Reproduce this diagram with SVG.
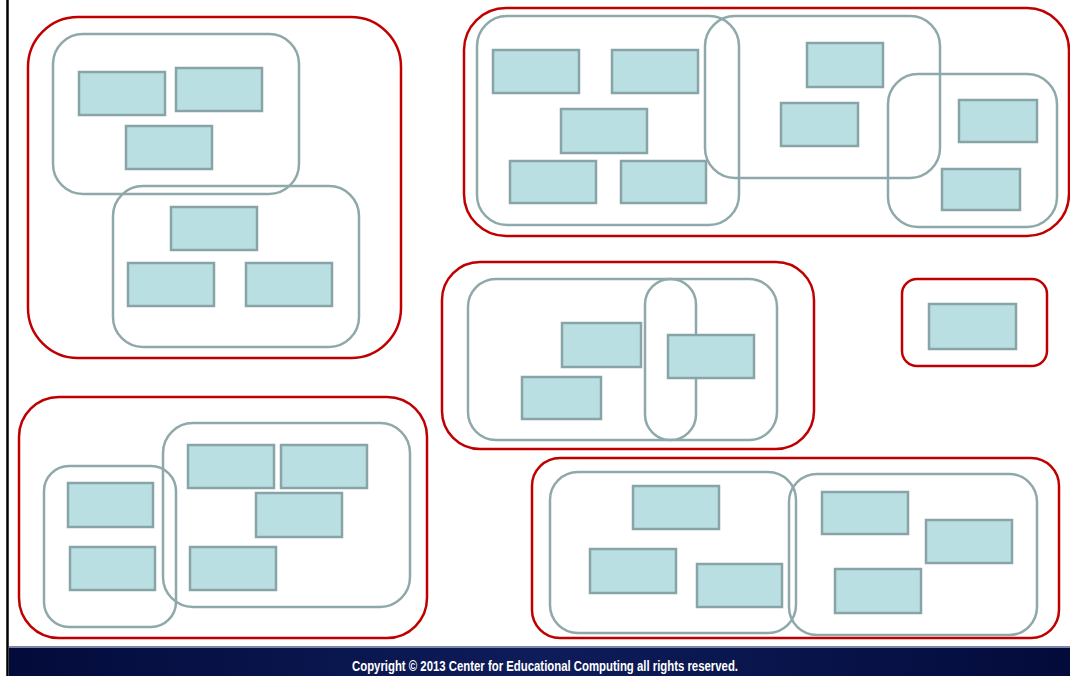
<svg xmlns="http://www.w3.org/2000/svg" width="1070" height="676" viewBox="0 0 1070 676">
<defs>
<style>
.red{fill:none;stroke:#C00000;stroke-width:2.5}
.grp{fill:none;stroke:#8FA9AB;stroke-width:2.5}
.box{fill:#BADFE3;stroke:#88A4A6;stroke-width:2.5}
.foot{font-family:"Liberation Sans",Arial,sans-serif;font-weight:bold;font-size:14.5px;fill:#ffffff}
</style>
<linearGradient id="fg" x1="0" y1="0" x2="1" y2="0">
<stop offset="0" stop-color="#030B3A"/>
<stop offset="0.5" stop-color="#0E1C5A"/>
<stop offset="1" stop-color="#030B3A"/>
</linearGradient>
</defs>
<rect x="0" y="0" width="1070" height="676" fill="#ffffff"/>
<line x1="7.5" y1="0" x2="7.5" y2="676" stroke="#000000" stroke-width="2.5"/>
<g id="footer">
<rect x="9" y="646" width="1061" height="30" fill="url(#fg)"/>
<rect x="9" y="646" width="1061" height="2" fill="#7C86A8"/>
<text class="foot" x="545" y="671" text-anchor="middle" textLength="386" lengthAdjust="spacingAndGlyphs">Copyright © 2013 Center for Educational Computing all rights reserved.</text>
</g>
<g id="groupA">
<rect class="red" x="28" y="17" width="373" height="341" rx="50"/>
<rect class="grp" x="53" y="34" width="246" height="160" rx="30"/>
<rect class="grp" x="113" y="186" width="246" height="161" rx="30"/>
<rect class="box" x="79" y="72" width="86" height="43"/>
<rect class="box" x="176" y="68" width="86" height="43"/>
<rect class="box" x="126" y="126" width="86" height="43"/>
<rect class="box" x="171" y="207" width="86" height="43"/>
<rect class="box" x="128" y="263" width="86" height="43"/>
<rect class="box" x="246" y="263" width="86" height="43"/>
</g>
<g id="groupB">
<rect class="red" x="464" y="8" width="605" height="228" rx="42"/>
<rect class="grp" x="477" y="16" width="262" height="209" rx="30"/>
<rect class="grp" x="705" y="16" width="235" height="162" rx="30"/>
<rect class="grp" x="888" y="74" width="169" height="153" rx="30"/>
<rect class="box" x="493" y="50" width="86" height="43"/>
<rect class="box" x="612" y="50" width="86" height="43"/>
<rect class="box" x="561" y="109" width="86" height="44"/>
<rect class="box" x="510" y="161" width="86" height="42"/>
<rect class="box" x="621" y="161" width="85" height="42"/>
<rect class="box" x="807" y="43" width="76" height="44"/>
<rect class="box" x="781" y="103" width="77" height="43"/>
<rect class="box" x="959" y="100" width="78" height="42"/>
<rect class="box" x="942" y="169" width="78" height="41"/>
</g>
<g id="groupC">
<rect class="red" x="442" y="262" width="372" height="187" rx="38"/>
<rect class="grp" x="468" y="279" width="309" height="161" rx="28"/>
<rect class="grp" x="645" y="279" width="51" height="161" rx="25.5"/>
<rect class="box" x="562" y="323" width="79" height="44"/>
<rect class="box" x="522" y="377" width="79" height="42"/>
<rect class="box" x="668" y="335" width="86" height="43"/>
</g>
<g id="groupD">
<rect class="red" x="902" y="279" width="145" height="87" rx="15"/>
<rect class="box" x="929" y="304" width="87" height="45"/>
</g>
<g id="groupE">
<rect class="red" x="19" y="397" width="408" height="241" rx="40"/>
<rect class="grp" x="44" y="466" width="132" height="161" rx="25"/>
<rect class="grp" x="163" y="423" width="247" height="184" rx="30"/>
<rect class="box" x="68" y="483" width="85" height="44"/>
<rect class="box" x="70" y="547" width="85" height="43"/>
<rect class="box" x="188" y="445" width="86" height="43"/>
<rect class="box" x="281" y="445" width="86" height="43"/>
<rect class="box" x="256" y="493" width="86" height="44"/>
<rect class="box" x="190" y="547" width="86" height="43"/>
</g>
<g id="groupF">
<rect class="red" x="532" y="458" width="527" height="180" rx="28"/>
<rect class="grp" x="550" y="472" width="246" height="161" rx="28"/>
<rect class="grp" x="789" y="474" width="248" height="161" rx="28"/>
<rect class="box" x="633" y="486" width="86" height="43"/>
<rect class="box" x="590" y="549" width="86" height="44"/>
<rect class="box" x="697" y="564" width="85" height="43"/>
<rect class="box" x="822" y="492" width="86" height="42"/>
<rect class="box" x="926" y="520" width="86" height="43"/>
<rect class="box" x="835" y="569" width="86" height="44"/>
</g>
<g id="connectors"></g>
</svg>
